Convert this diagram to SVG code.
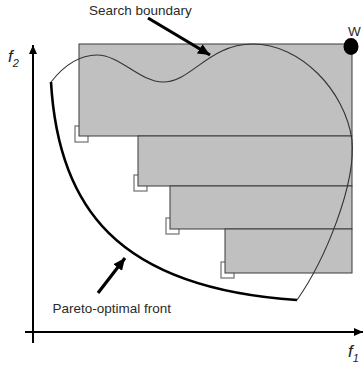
<svg xmlns="http://www.w3.org/2000/svg" width="363" height="372" viewBox="0 0 363 372">
<style>
.box{fill:#c0c0c0;stroke:#3a3a3a;stroke-width:1}
.mark{fill:#fff;stroke:#7a7a7a;stroke-width:1.3}
.lbl{font-family:"Liberation Sans",Arial,sans-serif;font-size:13.5px;fill:#2a2a2a}
.ax{font-family:"Liberation Sans",Arial,sans-serif;font-style:italic;fill:#222}
.axis{stroke:#000;stroke-width:2;fill:none}
.ptr{stroke:#000;stroke-width:3.2;fill:none}
</style>
<defs>
<marker id="axhead" markerWidth="10" markerHeight="10" refX="9" refY="5" orient="auto" markerUnits="userSpaceOnUse">
<path d="M0,1 L9,5 L0,9 Z" fill="#000"/>
</marker>
<marker id="ptrhead" markerWidth="14" markerHeight="14" refX="12" refY="7" orient="auto" markerUnits="userSpaceOnUse">
<path d="M0,1.5 L12,7 L0,12.5 Z" fill="#000"/>
</marker>
</defs>
<g id="axes">
<line class="axis" x1="33" y1="343" x2="33" y2="45" marker-end="url(#axhead)"/>
<line class="axis" x1="25" y1="332" x2="363" y2="332" marker-end="url(#axhead)"/>
<text class="ax" x="8" y="62" font-size="17">f<tspan font-size="11" dy="5">2</tspan></text>
<text class="ax" x="348" y="357" font-size="17">f<tspan font-size="11" dy="5">1</tspan></text>
</g>
<g id="box1"><rect class="mark" x="75" y="126" width="13" height="16"/><rect class="box" x="79" y="44" width="273" height="92"/></g>
<g id="box2"><rect class="mark" x="134" y="175" width="13" height="16"/><rect class="box" x="138" y="136" width="214" height="50"/></g>
<g id="box3"><rect class="mark" x="166" y="218" width="13" height="16"/><rect class="box" x="170" y="186" width="182" height="43"/></g>
<g id="box4"><rect class="mark" x="221" y="262" width="13" height="16"/><rect class="box" x="225" y="229" width="127" height="44"/></g>
<g id="pareto-front">
<path d="M51,82 C58,205 115,288 297,300" fill="none" stroke="#000" stroke-width="2.6"/>
</g>
<g id="search-boundary">
<path d="M51,82 C62,68 78,55 97,55 C120,55 140,82 163,82 C192,82 208,44 253,44 C300,44 345,90 352,140 C356,185 325,260 297,300" fill="none" stroke="#333" stroke-width="1.1"/>
</g>
<g id="W">
<ellipse cx="351" cy="46.5" rx="7.5" ry="8.5" fill="#000"/>
<text class="lbl" x="348" y="36">W</text>
</g>
<g id="label-search"><text class="lbl" x="89" y="15">Search boundary</text></g>
<g id="label-pareto"><text class="lbl" x="52.5" y="313">Pareto-optimal front</text></g>
<g id="connectors">
<line class="ptr" x1="148" y1="18" x2="210" y2="55" marker-end="url(#ptrhead)"/>
<line class="ptr" x1="98" y1="293" x2="125" y2="258" marker-end="url(#ptrhead)"/>
</g>
</svg>
